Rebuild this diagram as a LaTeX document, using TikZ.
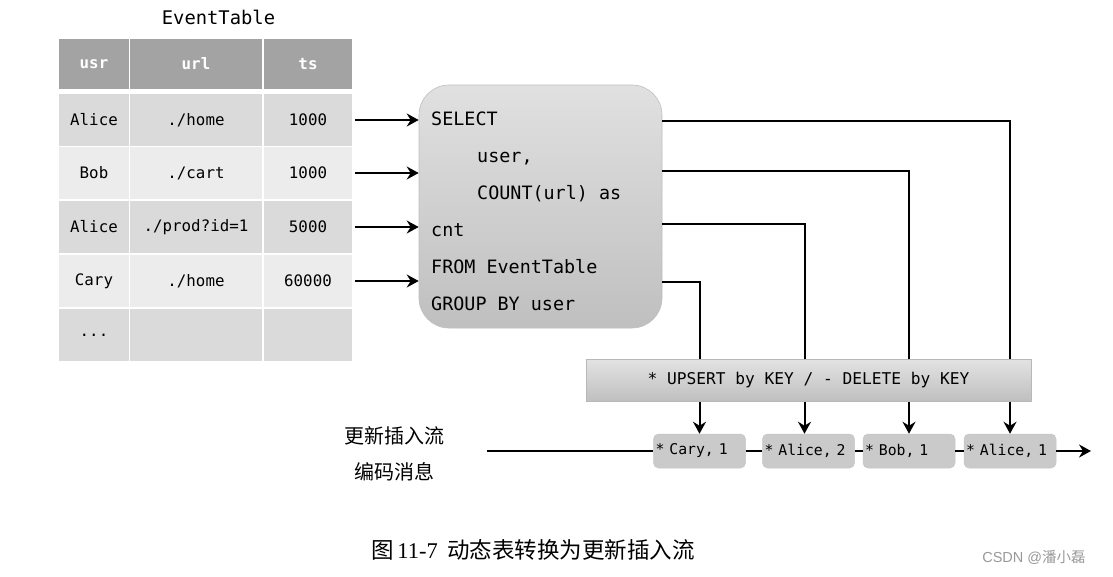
\documentclass[tikz,border=0pt]{standalone}
\usepackage{fontspec}
\setmainfont{Liberation Serif}
\setmonofont{DejaVu Sans Mono}
\newfontfamily\cjk{Noto Sans CJK SC}
\usetikzlibrary{arrows.meta,calc}
\definecolor{hdr}{HTML}{A3A3A3}
\definecolor{rowA}{HTML}{DADADA}
\definecolor{rowB}{HTML}{ECECEC}
\definecolor{boxg}{HTML}{CACACA}
\begin{document}
\begin{tikzpicture}[x=1pt,y=-1pt,
  cellfont/.style={font=\ttfamily\fontsize{15.8}{18}\selectfont},
  hcell/.style={cellfont,font=\ttfamily\bfseries\fontsize{15.8}{18}\selectfont,text=white,fill=hdr,minimum height=50pt,inner sep=0pt},
  cellA/.style={cellfont,fill=rowA,minimum height=52pt,inner sep=0pt},
  cellB/.style={cellfont,fill=rowB,minimum height=52pt,inner sep=0pt},
  wa/.style={minimum width=70pt},
  wb/.style={minimum width=132pt},
  wc/.style={minimum width=88pt},
  sqlbox/.style={draw=black!25,line width=0.6pt,rounded corners=30pt,top color=black!12,bottom color=black!25,minimum width=243pt,minimum height=243pt,inner sep=0pt},
  sqltxt/.style={font=\ttfamily\fontsize{18.4}{20}\selectfont,anchor=base west,inner sep=0pt},
  outbox/.style={fill=boxg,draw=black!22,line width=0.5pt,rounded corners=5pt,minimum width=92pt,minimum height=34pt,inner xsep=2pt,inner ysep=0pt,font=\ttfamily\fontsize{14.8}{16}\selectfont,text width=88pt,align=left},
  barbox/.style={draw=black!28,line width=0.6pt,top color=black!11,bottom color=black!25,minimum width=445pt,minimum height=42pt,inner sep=0pt,font=\ttfamily\fontsize{16.2}{18}\selectfont},
  conn/.style={line width=2pt,draw=black},
  arr/.style={conn,-{Stealth[length=12pt,width=13pt,inset=4pt]}},
  cjklab/.style={font=\cjk\fontsize{20}{22}\selectfont,inner sep=0pt}
]
\useasboundingbox (0,0) rectangle (1113,576);
\fill[white] (0,0) rectangle (1113,576);

% title
\node[font=\ttfamily\fontsize{18.8}{20}\selectfont,inner sep=0pt] (title) at (218.5,17) {EventTable};

% header
\node[hcell,wa] (h1) at (94,64) {usr};
\node[hcell,wb] (h2) at (196,64) {url};
\node[hcell,wc] (h3) at (308,64) {ts};
% rows
\node[cellA,wa] (r1c1) at (94,120) {Alice};
\node[cellA,wb] (r1c2) at (196,120) {./home};
\node[cellA,wc] (r1c3) at (308,120) {1000};
\node[cellB,wa] (r2c1) at (94,173) {Bob};
\node[cellB,wb] (r2c2) at (196,173) {./cart};
\node[cellB,wc] (r2c3) at (308,173) {1000};
\node[cellA,wa] (r3c1) at (94,227) {Alice};
\node[cellA,wb] (r3c2) at (196,227) {./prod?id=1};
\node[cellA,wc] (r3c3) at (308,227) {5000};
\node[cellB,wa] (r4c1) at (94,281) {Cary};
\node[cellB,wb] (r4c2) at (196,281) {./home};
\node[cellB,wc] (r4c3) at (308,281) {60000};
\node[cellA,wa] (r5c1) at (94,335) {...};
\node[cellA,wb] (r5c2) at (196,335) {};
\node[cellA,wc] (r5c3) at (308,335) {};

% SQL box
\node[sqlbox] (sql) at (540.5,206.5) {};
\node[sqltxt] (s1) at (431,125) {SELECT};
\node[sqltxt] (s2) at (477,162) {user,};
\node[sqltxt] (s3) at (477,199) {COUNT(url) as};
\node[sqltxt] (s4) at (431,236) {cnt};
\node[sqltxt] (s5) at (431,273) {FROM EventTable};
\node[sqltxt] (s6) at (431,310) {GROUP BY user};

% input arrows
\foreach \r in {1,2,3,4}{
  \draw[arr] ([xshift=3pt]r\r c3.east) -- (sql.west |- r\r c3.east);
}

% output boxes
\node[outbox] (cary) at (699.5,451) {* Cary, 1};
\node[outbox] (alice2) at (808.5,451) {* Alice, 2};
\node[outbox] (bob) at (909,451) {* Bob, 1};
\node[outbox] (alice1) at (1010,451) {* Alice, 1};

% output connectors
\coordinate (o1) at (662,121);
\coordinate (o2) at (662,171);
\coordinate (o3) at (662,224);
\coordinate (o4) at (662,282);
\draw[arr] (o1) -| (alice1.north);
\draw[arr] (o2) -| (bob.north);
\draw[arr] (o3) -| ([xshift=-4pt]alice2.north);
\draw[arr] (o4) -| (cary.north);

% bar
\node[barbox] (bar) at (808.5,380) {* UPSERT by KEY / - DELETE by KEY};

% stream line
\coordinate (sstart) at (487,451);
\coordinate (send) at (1091,451);
\draw[conn] (sstart) -- (cary.west);
\draw[conn] (cary.east) -- (alice2.west);
\draw[conn] (alice2.east) -- (bob.west);
\draw[conn] (bob.east) -- (alice1.west);
\draw[arr] (alice1.east) -- (send);

% labels
\node[cjklab] (l1) at (394,436) {更新插入流};
\node[cjklab] (l2) at (394,472) {编码消息};

% caption
\node[inner sep=0pt,font=\fontsize{22.5}{25}\selectfont] (cap) at (533,550) {{\cjk 图}\,11-7\, {\cjk 动态表转换为更新插入流}};
\node[inner sep=0pt,text=black!40,font=\fontsize{14.5}{16}\selectfont] (wm) at (1034,557) {\fontspec{Liberation Sans}CSDN @{\cjk 潘小磊}};
\end{tikzpicture}
\end{document}
